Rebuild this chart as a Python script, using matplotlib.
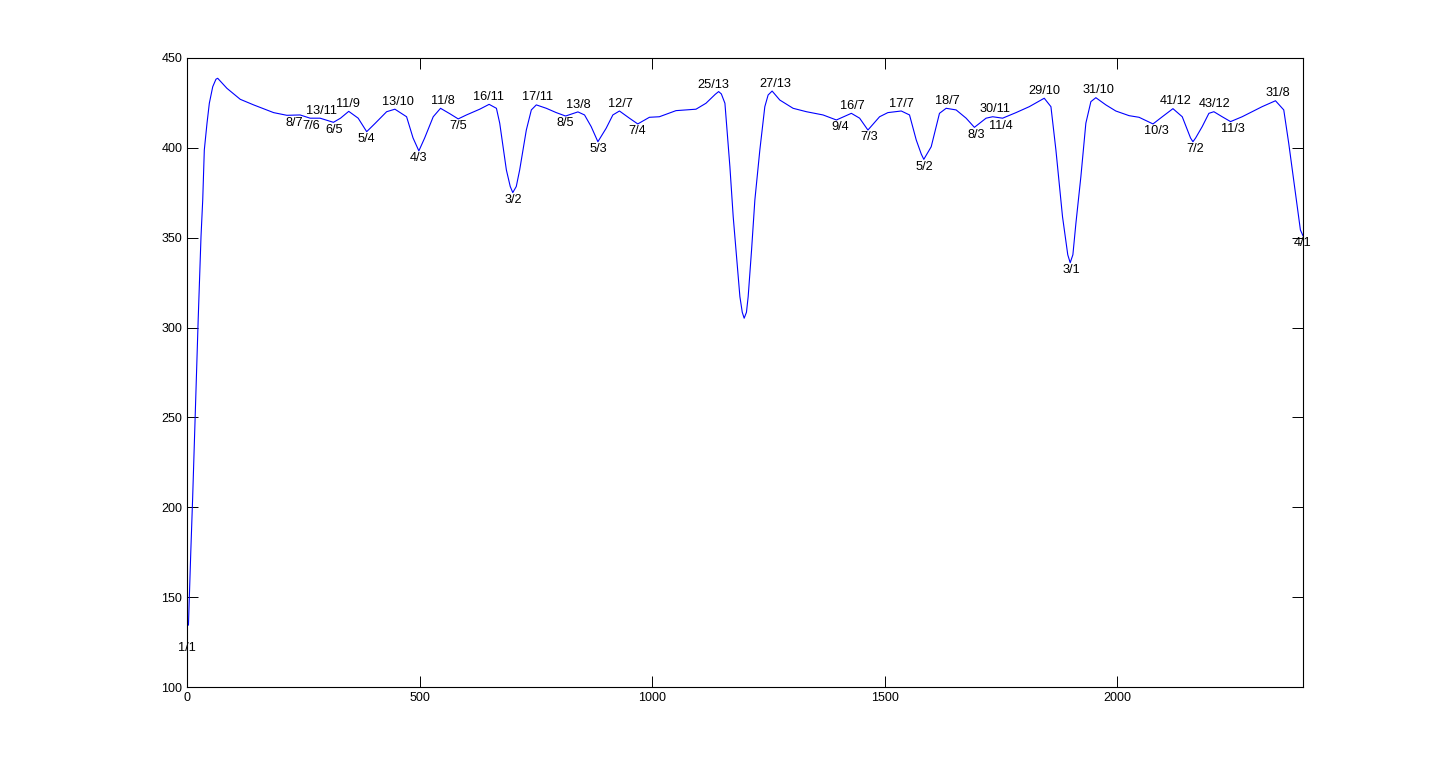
import numpy as np
import matplotlib
matplotlib.use("Agg")
import matplotlib.pyplot as plt

plt.rcParams['font.family'] = ['Liberation Sans', 'DejaVu Sans']

# curve (x in cents, y value)
cents = [0, 3, 8, 12, 18, 24, 30, 33.7, 37.1, 42.9, 47.9, 55.2, 62.2, 65.9,
         85.8, 114.4, 143.1, 186.1, 214.6, 243.1, 264.6, 286.1, 314.8, 330, 347.7,
         368, 386.3, 404, 429.2, 447.0, 472.1, 486, 498.5, 511, 529.4, 545.1, 565, 583.1, 600.9, 629.4,
         649.6, 665.3, 672.4, 686.7, 695, 700.5, 708, 715.3, 729.6, 740.4, 751.1, 772.6,
         794.0, 814.0, 840.6, 854.8, 869.1, 883.5, 901.3, 915.7, 929.9, 951.3,
         969.3, 994.3, 1015.7, 1051.5, 1094.5, 1115.9, 1136, 1143.2, 1149, 1156.7, 1167.4,
         1174.5, 1181.8, 1188.9, 1194, 1198.1, 1203, 1206.7, 1214.0, 1221.1, 1231.8, 1242.5,
         1249.6, 1258.2, 1274.7, 1303.3, 1332.0, 1367.7, 1396.4, 1428.6, 1446.4,
         1464.2, 1489.3, 1507.1, 1535.9, 1553.7, 1568.1, 1579, 1584.4, 1591, 1600.3, 1618.1,
         1632.5, 1653.9, 1675.4, 1693.2, 1718.3, 1732.5, 1753.9, 1782.7, 1811.2,
         1843.4, 1857.8, 1868.5, 1882.7, 1894, 1899.2, 1905, 1911.5, 1922.2, 1932.9, 1943.7,
         1954.4, 1975.9, 1997.3, 2025.9, 2047.3, 2077.3, 2097.3, 2120.2, 2140.2,
         2158, 2163.2, 2169, 2183.1, 2197.5, 2208.2, 2226.1, 2244.1, 2269.0, 2311.9, 2340.7,
         2358.5, 2369.2, 2383.6, 2394.3, 2400]
values = [134, 134.5, 175, 205, 255, 305, 350.6, 371, 398.8, 413.7, 424.8, 434.0, 438.2, 438.7,
          433.1, 427.0, 423.9, 419.6, 418.1, 418.3, 416.5, 416.5, 414.2, 416.5, 420.3,
          416.5, 409.0, 413.5, 420.1, 421.5, 417.3, 405.5, 398.3, 405.5, 417.3, 422.0, 419.0, 416.1, 418.3, 421.5,
          424.2, 422.0, 413.7, 387.7, 378.5, 375.1, 378.5, 387.7, 409.9, 421.1, 423.9, 422.0,
          419.6, 417.7, 420.0, 418.3, 411.8, 403.4, 410.9, 418.3, 420.5, 416.5,
          413.3, 417.0, 417.3, 420.7, 421.5, 424.8, 429.8, 431.3, 430.0, 424.8, 389.5,
          361.7, 339.4, 317.2, 308.5, 305.2, 308.5, 317.2, 343.2, 371.0, 398.8, 422.9,
          429.4, 431.6, 426.6, 422.0, 420.1, 418.3, 415.5, 419.2, 416.5,
          409.9, 417.3, 419.6, 420.5, 418.3, 404.4, 396.5, 393.6, 396.5, 400.6, 419.2,
          422.0, 421.1, 416.5, 411.4, 416.5, 417.3, 416.5, 419.6, 422.9,
          427.6, 422.9, 398.8, 361.7, 340.5, 336.1, 340.5, 358.0, 384.0, 413.7, 425.7,
          427.9, 423.9, 420.5, 417.9, 417.0, 413.3, 417.3, 421.8, 417.3,
          405.5, 403.4, 405.5, 411.8, 419.2, 420.1, 417.3, 414.6, 417.3, 422.9, 426.2,
          421.1, 402.5, 374.7, 354.3, 351]

# ratio labels: text, cents, value, placed below (trough) or above (peak)
label_text = ['1/1', '8/7', '7/6', '13/11', '6/5', '11/9', '5/4', '13/10', '4/3', '11/8',
              '7/5', '16/11', '3/2', '17/11', '8/5', '13/8', '5/3', '12/7', '7/4', '25/13',
              '27/13', '9/4', '16/7', '7/3', '17/7', '5/2', '18/7', '8/3', '30/11', '11/4',
              '29/10', '3/1', '31/10', '10/3', '41/12', '7/2', '43/12', '11/3', '31/8', '4/1']
label_x = [0, 231, 267, 289, 316, 347, 386, 454, 498, 551,
           583, 649, 702, 754, 814, 841, 884, 933, 969, 1132,
           1265, 1404, 1431, 1467, 1536, 1586, 1635, 1698, 1737, 1751,
           1843, 1902, 1959, 2084, 2127, 2169, 2210, 2249, 2345, 2400]
label_y = [126, 418, 416.5, 416.5, 414.2, 420.3, 409.0, 421.5, 398.3, 422.0,
           416.1, 424.2, 375, 423.9, 417.7, 420.0, 403.4, 420.5, 413.3, 431,
           431.6, 415.5, 419.2, 409.9, 420.5, 393.6, 422.0, 411.4, 417.3, 416.5,
           427.6, 336.1, 427.9, 413.3, 421.8, 403.4, 420.1, 414.6, 426.2, 351]
label_below = [True, True, True, False, True, False, True, False, True, False,
               True, False, True, False, True, False, True, False, True, False,
               False, True, False, True, False, True, False, True, False, True,
               False, True, False, True, False, True, False, True, False, True]

fig = plt.figure(figsize=(14.4, 7.72), dpi=100)
ax = fig.add_axes([0.1299, 0.1101, 0.775, 0.8148])

ax.plot(cents, values, color='#0000ff', linewidth=0.8)

for txt, lx, ly, below in zip(label_text, label_x, label_y, label_below):
    ax.annotate(txt, (lx, ly), xytext=(0, -1 if below else 1), textcoords='offset points',
                ha='center', va='top' if below else 'bottom', fontsize=9.2)

ax.set_xlim(0, 2400)
ax.set_ylim(100, 450)
ax.set_xticks([0, 500, 1000, 1500, 2000])
ax.set_yticks(np.arange(100, 451, 50))
ax.tick_params(direction='in', length=8, width=0.7, top=True, right=True,
               labelsize=9, pad=3.5)
for s in ax.spines.values():
    s.set_linewidth(0.8)

fig.savefig('out.png', dpi=100)
